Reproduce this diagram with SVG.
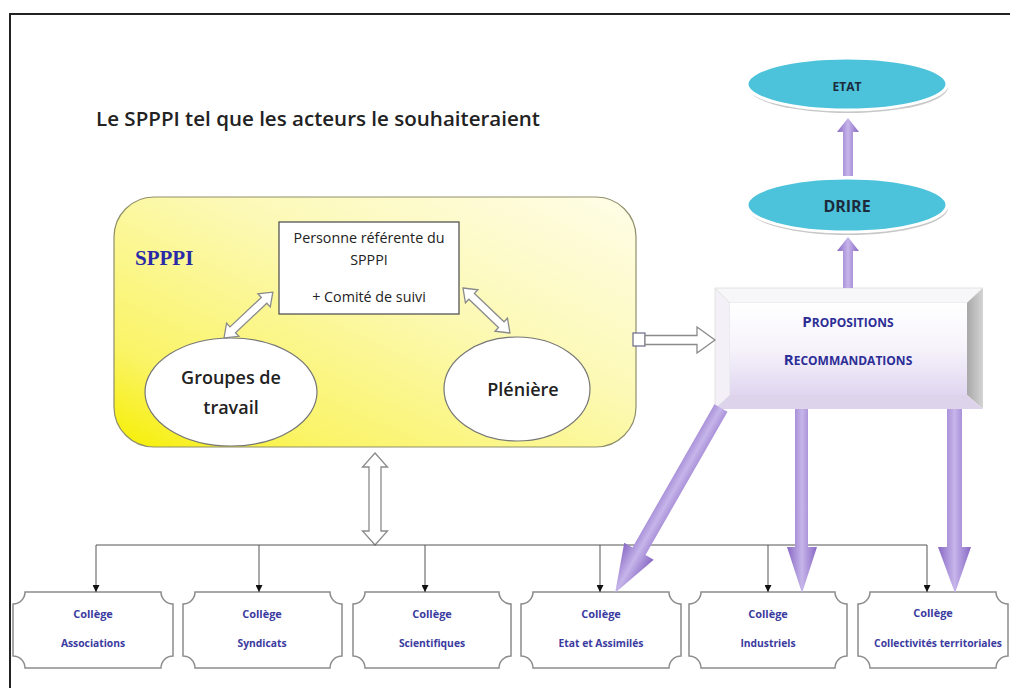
<svg xmlns="http://www.w3.org/2000/svg" width="1010" height="688" viewBox="0 0 1010 688">
<defs>
<linearGradient id="yel" x1="1" y1="0" x2="0" y2="1">
<stop offset="0" stop-color="#fffde8"/>
<stop offset="0.4" stop-color="#fcf9b6"/>
<stop offset="0.8" stop-color="#faf466"/>
<stop offset="1" stop-color="#f6ee00"/>
</linearGradient>
<linearGradient id="face" x1="0" y1="0" x2="0" y2="1">
<stop offset="0" stop-color="#ffffff"/>
<stop offset="0.5" stop-color="#f6f3fb"/>
<stop offset="1" stop-color="#e0d6f0"/>
</linearGradient>
<linearGradient id="rbev" x1="0" y1="0" x2="1" y2="0">
<stop offset="0" stop-color="#a8a8a8"/>
<stop offset="1" stop-color="#d4d4d4"/>
</linearGradient>
<linearGradient id="purH" x1="0" y1="0" x2="1" y2="0">
<stop offset="0" stop-color="#8868c4"/>
<stop offset="0.5" stop-color="#c6b5ea"/>
<stop offset="1" stop-color="#8868c4"/>
</linearGradient>
<linearGradient id="purV" x1="0" y1="0" x2="0" y2="1">
<stop offset="0" stop-color="#8868c4"/>
<stop offset="0.5" stop-color="#c6b5ea"/>
<stop offset="1" stop-color="#8868c4"/>
</linearGradient>
<marker id="tri" viewBox="0 0 8 8" refX="8" refY="4" markerWidth="7" markerHeight="7" orient="auto" markerUnits="userSpaceOnUse">
<path d="M0,0 L8,4 L0,8 Z" fill="#111"/>
</marker>
<style>
text{font-family:"Open Sans","Liberation Sans",Arial,sans-serif;}
.serif{font-family:"Liberation Serif","Times New Roman",serif;}
.box{fill:#fff;stroke:#555;stroke-width:1.3;}
.ell{fill:#fff;stroke:#777;stroke-width:1.2;}
.hollow{fill:#fff;stroke:#8a8a8a;stroke-width:1.3;stroke-linejoin:miter;}
.coll{fill:#fff;stroke:#8c8c8c;stroke-width:1.5;}
.ct{font-size:11px;font-weight:bold;fill:#3b3ba0;text-anchor:middle;}
.ct2{font-size:10.3px;font-weight:bold;fill:#3b3ba0;text-anchor:middle;}
.teal{fill:#4cc2db;stroke:#ffffff;stroke-width:3;}
.drop{stroke:#555;stroke-width:1;fill:none;}
.dark{font-weight:bold;fill:#1c2a3a;text-anchor:middle;}
.prop{font-weight:bold;fill:#2d2d96;text-anchor:middle;}
.blk{fill:#222;text-anchor:middle;}
</style>
</defs>
<rect width="1010" height="688" fill="#fff"/>
<!-- page frame -->
<path d="M10,688 V14 H1010" fill="none" stroke="#222" stroke-width="2"/>

<text x="96" y="126" font-size="20" font-weight="600" fill="#222" textLength="444" lengthAdjust="spacingAndGlyphs">Le SPPPI tel que les acteurs le souhaiteraient</text>

<g id="spppi">
<rect x="114" y="197" width="522" height="250" rx="40" ry="40" fill="url(#yel)" stroke="#8f8f6a" stroke-width="1.2"/>
<text class="serif" x="135" y="265" font-size="21" font-weight="bold" fill="#2a2aa8">SPPPI</text>
</g>

<g id="referent">
<rect class="box" x="279" y="222" width="180" height="92"/>
<text class="blk" x="369" y="243" font-size="14.3">Personne référente du</text>
<text class="blk" x="369" y="265" font-size="14.3">SPPPI</text>
<text class="blk" x="369" y="302" font-size="14.3">+ Comité de suivi</text>
</g>

<g id="groupes">
<ellipse class="ell" cx="231" cy="392" rx="86" ry="54"/>
<text class="blk" x="231" y="384" font-size="18" font-weight="600">Groupes de</text>
<text class="blk" x="231" y="414" font-size="18" font-weight="600">travail</text>
</g>

<g id="pleniere">
<ellipse class="ell" cx="517" cy="389" rx="73" ry="52"/>
<text class="blk" x="523" y="396" font-size="18" font-weight="600">Plénière</text>
</g>

<g id="propositions">
<polygon points="715,288 983,288 967,303 730,303" fill="#f7f6f9" stroke="#e2e2e2" stroke-width="1"/>
<polygon points="715,288 730,303 730,395 715,409" fill="#f3f1f7" stroke="#e2e2e2" stroke-width="1"/>
<polygon points="983,288 983,409 967,395 967,303" fill="url(#rbev)"/>
<polygon points="715,409 983,409 967,395 730,395" fill="#ddd4ec"/>
<rect x="730" y="303" width="237" height="92" fill="url(#face)"/>
<text x="848" y="327" class="prop"><tspan font-size="15">P</tspan><tspan font-size="12">ROPOSITIONS</tspan></text>
<text x="848" y="365" class="prop"><tspan font-size="15">R</tspan><tspan font-size="12">ECOMMANDATIONS</tspan></text>
</g>

<g id="drire">
<ellipse cx="848" cy="208" rx="100" ry="27" fill="#c8c8c8"/>
<ellipse class="teal" cx="847" cy="205" rx="100" ry="27"/>
<text x="847" y="212" font-size="16" class="dark">DRIRE</text>
</g>

<g id="etat">
<ellipse cx="848" cy="87" rx="100" ry="26" fill="#c8c8c8"/>
<ellipse class="teal" cx="847" cy="84" rx="100" ry="26"/>
<text x="847" y="91" font-size="12" class="dark">ETAT</text>
</g>

<g id="college-associations">
<path class="coll" d="M25,592 H161 A12,12 0 0 0 173,604 V656 A12,12 0 0 0 161,668 H25 A12,12 0 0 0 13,656 V604 A12,12 0 0 0 25,592 Z"/>
<text class="ct" x="93" y="618">Collège</text>
<text class="ct2" x="93" y="647">Associations</text>
</g>
<g id="college-syndicats">
<path class="coll" d="M195,592 H330 A12,12 0 0 0 342,604 V656 A12,12 0 0 0 330,668 H195 A12,12 0 0 0 183,656 V604 A12,12 0 0 0 195,592 Z"/>
<text class="ct" x="262" y="618">Collège</text>
<text class="ct2" x="262" y="647">Syndicats</text>
</g>
<g id="college-scientifiques">
<path class="coll" d="M365,592 H499 A12,12 0 0 0 511,604 V656 A12,12 0 0 0 499,668 H365 A12,12 0 0 0 353,656 V604 A12,12 0 0 0 365,592 Z"/>
<text class="ct" x="432" y="618">Collège</text>
<text class="ct2" x="432" y="647">Scientifiques</text>
</g>
<g id="college-etat">
<path class="coll" d="M533,592 H669 A12,12 0 0 0 681,604 V656 A12,12 0 0 0 669,668 H533 A12,12 0 0 0 521,656 V604 A12,12 0 0 0 533,592 Z"/>
<text class="ct" x="601" y="618">Collège</text>
<text class="ct2" x="601" y="647">Etat et Assimilés</text>
</g>
<g id="college-industriels">
<path class="coll" d="M701,592 H835 A12,12 0 0 0 847,604 V656 A12,12 0 0 0 835,668 H701 A12,12 0 0 0 689,656 V604 A12,12 0 0 0 701,592 Z"/>
<text class="ct" x="768" y="618">Collège</text>
<text class="ct2" x="768" y="647">Industriels</text>
</g>
<g id="college-collectivites">
<path class="coll" d="M870,592 H996 A12,12 0 0 0 1008,604 V656 A12,12 0 0 0 996,668 H870 A12,12 0 0 0 858,656 V604 A12,12 0 0 0 870,592 Z"/>
<text class="ct" x="933" y="617">Collège</text>
<text class="ct2" x="938" y="647">Collectivités territoriales</text>
</g>

<g id="connectors">
<!-- inner double arrows -->
<polygon class="hollow" transform="translate(224,338) rotate(-43.2)" points="0,0 12,-9 12,-4 55,-4 55,-9 67,0 55,9 55,4 12,4 12,9"/>
<polygon class="hollow" transform="translate(463,288) rotate(43.8)" points="0,0 12,-9 12,-4 53,-4 53,-9 65,0 53,9 53,4 12,4 12,9"/>
<!-- SPPPI to propositions -->
<rect x="633" y="333" width="12" height="13" fill="#fff" stroke="#6a6a8a" stroke-width="1.2"/>
<polygon class="hollow" points="645,335.5 697,335.5 697,327 715,340 697,353 697,344.5 645,344.5"/>
<!-- vertical double arrow -->
<polygon class="hollow" transform="translate(375,453) rotate(90)" points="0,0 14,-12.5 14,-6 78,-6 78,-12.5 92,0 78,12.5 78,6 14,6 14,12.5"/>
<!-- tree -->
<path class="drop" d="M96,545 H927"/>
<path class="drop" marker-end="url(#tri)" d="M96,545 V592"/>
<path class="drop" marker-end="url(#tri)" d="M259,545 V592"/>
<path class="drop" marker-end="url(#tri)" d="M425,545 V592"/>
<path class="drop" marker-end="url(#tri)" d="M600,545 V592"/>
<path class="drop" marker-end="url(#tri)" d="M768,545 V592"/>
<path class="drop" marker-end="url(#tri)" d="M927,545 V592"/>
<!-- purple up arrows -->
<polygon fill="url(#purH)" points="843,288 843,251 837,251 848,237 859,251 853,251 853,288"/>
<polygon fill="url(#purH)" points="843,176 843,132 837,132 848,118 859,132 853,132 853,176"/>
<!-- purple down arrows -->
<polygon fill="url(#purV)" transform="translate(721,408) rotate(119.8)" points="0,-7.5 165,-7.5 165,-17 213,0 165,17 165,7.5 0,7.5"/>
<polygon fill="url(#purH)" points="795,409 808,409 808,547 817,547 802,593 787,547 795,547"/>
<polygon fill="url(#purH)" points="947,409 962,409 962,547 971,547 955,593 938,547 947,547"/>
</g>
</svg>
